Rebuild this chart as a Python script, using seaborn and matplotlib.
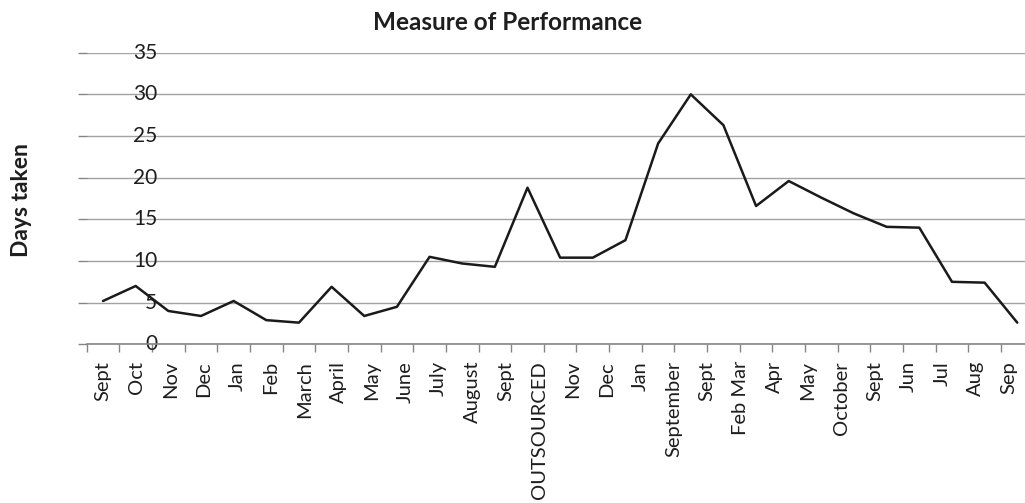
import numpy as np
import pandas as pd
import matplotlib
matplotlib.use("Agg")
import matplotlib.pyplot as plt
import seaborn as sns

# Days taken per reporting period
days_taken = [5.2, 7.0, 4.0, 3.4, 5.2, 2.9, 2.6, 6.9, 3.4, 4.5,
              10.5, 9.7, 9.3, 18.8, 10.4, 10.4, 12.5, 24.1, 30.0, 26.3,
              16.6, 19.6, 17.6, 15.7, 14.1, 14.0, 7.5, 7.4, 2.6]

# Period labels along the horizontal axis
period_labels = ["Sept", "Oct", "Nov", "Dec", "Jan", "Feb", "March", "April",
                 "May", "June", "July", "August", "Sept", "OUTSOURCED", "Nov",
                 "Dec", "Jan", "September", "Sept", "Feb Mar", "Apr", "May",
                 "October", "Sept", "Jun", "Jul", "Aug", "Sep"]

y_ticks = [0, 5, 10, 15, 20, 25, 30, 35]

title_text = "Measure of Performance"
y_title = "Days taken"

sns.set_theme(style="white")
plt.rcParams["font.family"] = ["Lato", "DejaVu Sans"]

text_color = "#1e1e1e"
grid_color = "#a3a3a3"
axis_color = "#858585"

df = pd.DataFrame({"period": np.arange(len(days_taken)), "days": days_taken})

fig = plt.figure(figsize=(10.25, 5.03), dpi=100)
ax = fig.add_axes([0.0846, 0.3155, 0.9238, 0.5797])

sns.lineplot(data=df, x="period", y="days", ax=ax, color="#1a1a1a",
             linewidth=1.8, legend=False)

n = len(days_taken)
ax.set_xlim(-0.5, n - 0.5)
ax.set_ylim(y_ticks[0], y_ticks[-1])

# horizontal gridlines
ax.set_yticks(y_ticks)
ax.set_yticklabels([str(v) for v in y_ticks])
ax.yaxis.grid(True, color=grid_color, linewidth=1.0)
ax.xaxis.grid(False)
ax.set_axisbelow(True)

# category boundary ticks on the x axis, labels spread across the axis
ax.xaxis.remove_overlapping_locs = False
ax.set_xticks(np.arange(n + 1) - 0.5)
ax.set_xticklabels([])
label_pos = np.linspace(0, n - 1.25, len(period_labels))
ax.set_xticks(label_pos, minor=True)
ax.set_xticklabels(period_labels, minor=True, rotation=90, fontsize=14.5,
                   color=text_color)
ax.tick_params(axis="x", which="major", direction="out", length=5.5,
               width=1.0, color=axis_color, bottom=True)
ax.tick_params(axis="x", which="minor", length=0, pad=12)

ax.tick_params(axis="y", which="major", direction="out", length=6.3,
               width=1.0, color=axis_color, left=True, pad=-57,
               labelsize=15, labelcolor=text_color)
for lbl in ax.get_yticklabels():
    lbl.set_horizontalalignment("right")
    lbl.set_verticalalignment("center")

for side in ["top", "right", "left"]:
    ax.spines[side].set_visible(False)
ax.spines["bottom"].set_color(axis_color)
ax.spines["bottom"].set_linewidth(1.2)

ax.set_xlabel("")
ax.set_ylabel("")

fig.text(508 / 1025, 1 - 22 / 503, title_text, ha="center", va="center",
         fontsize=17.5, fontweight="bold", color=text_color)
fig.text(21.7 / 1025, 1 - 200 / 503, y_title, ha="center", va="center",
         rotation=90, fontsize=16.5, fontweight="bold", color=text_color)

fig.savefig("out.png", dpi=100)
